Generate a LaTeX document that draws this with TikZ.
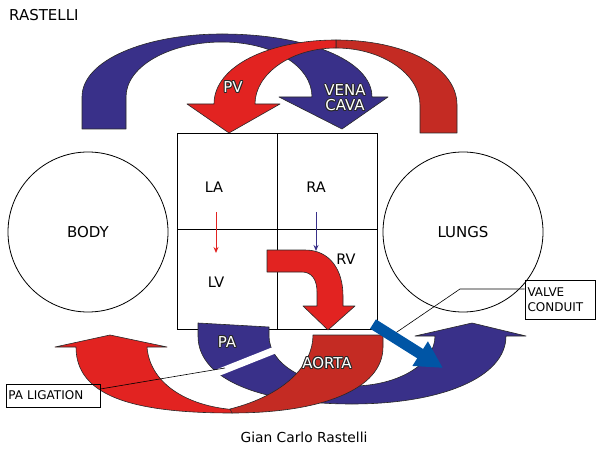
\documentclass[tikz,border=0pt]{standalone}
\usepackage{fontspec}
\setmainfont{DejaVu Sans}
\usetikzlibrary{calc,arrows.meta}
\definecolor{cblue}{RGB}{57,48,137}
\definecolor{cred}{RGB}{226,35,33}
\definecolor{cdred}{RGB}{196,43,35}
\definecolor{cconduit}{RGB}{0,85,165}
\definecolor{edgec}{RGB}{40,40,40}
\newcommand\olbl[3]{%
  \foreach \ang in {0,45,...,315}{\node[olab,text=edgec] at ($(#2)+(\ang:0.9)$) {#3};}
  \node[olab,text=white] (#1) at (#2) {#3};}
\begin{document}
\begin{tikzpicture}[x=1pt,y=-1pt,
  band/.style={draw=edgec,line width=0.6pt,line join=round},
  olab/.style={font=\fontsize{15}{16}\selectfont,inner sep=0pt,align=center},
  lab/.style={font=\fontsize{14.5}{16}\selectfont,inner sep=0pt},
  organ/.style={draw=black,line width=0.8pt,circle,minimum size=160pt,font=\fontsize{15}{16}\selectfont},
  cell/.style={draw=black,line width=0.8pt,minimum width=100pt,inner sep=0pt},
  tag/.style={draw=black,line width=0.7pt,font=\fontsize{12}{15.5}\selectfont,align=left,inner sep=0pt},
  lead/.style={draw=black,line width=0.6pt},
  thinarr/.style={line width=1pt,-{Stealth[length=6pt,width=5pt]}}]
\useasboundingbox (0,0) rectangle (597,449);

% title texts
\node[lab,anchor=west,font=\fontsize{15}{16}\selectfont] (title) at (9,15) {RASTELLI};
\node[lab,font=\fontsize{13.8}{16}\selectfont] (credit) at (304,437) {Gian Carlo Rastelli};

% organs
\node[organ] (body) at (88,232) {BODY};
\node[organ] (lungs) at (463,232) {LUNGS};

% heart cells
\node[cell,minimum height=96pt] (cLA) at (227,181) {};
\node[cell,minimum height=96pt] (cRA) at (327,181) {};
\node[cell,minimum height=100pt] (cLV) at (227,279) {};
\node[cell,minimum height=100pt] (cRV) at (327,279) {};
\node[lab] (tLA) at (214,187) {LA};
\node[lab] (tRA) at (316,187) {RA};
\node[lab] (tLV) at (216,282) {LV};
\node[lab] (tRV) at (346,259) {RV};
\coordinate (ra1) at (216,212); \coordinate (ra2) at (216,253);
\coordinate (rb1) at (316,212); \coordinate (rb2) at (316,251);
\draw[thinarr,cred] (ra1) -- (ra2);
\draw[thinarr,cblue] (rb1) -- (rb2);

% top blue arrow (vena cava)
\filldraw[band,fill=cblue] (82,129) -- (82,97) .. controls (82,60) and (146,34) .. (222,34)
  .. controls (306,34) and (372,60) .. (372,97) -- (388,97) -- (342,129) -- (279,97) -- (312,97)
  .. controls (312,66) and (273,42) .. (222,42) .. controls (170,42) and (126,66) .. (126,97)
  -- (126,129) -- cycle;
% top red arrow (pulmonary veins)
\filldraw[band,fill=cdred] (336,40) .. controls (403,40) and (457,66) .. (457,105) -- (457,133)
  -- (420,133) -- (420,105) .. controls (420,74) and (382,48) .. (336,48) -- cycle;
\filldraw[band,fill=cred] (255,104) -- (280,104) -- (229,133) -- (187,104) -- (214,104)
  .. controls (214,66) and (269,40) .. (336,40) -- (336,48) .. controls (291,48) and (255,74) .. (255,104) -- cycle;

% bottom blue arrow (PA)
\filldraw[band,fill=cblue] (198,323) -- (198,336) .. controls (198,380) and (262,404) .. (352,404)
  .. controls (440,404) and (506,378) .. (506,336) -- (526,336) -- (472,323) -- (415,336) -- (435,336)
  .. controls (435,364) and (398,386) .. (352,386) .. controls (306,386) and (269,364) .. (269,336)
  -- (269,327) -- cycle;
% bottom red arrow (aorta)
\filldraw[band,fill=cred] (147,347) -- (167,347) -- (110,335) -- (55,347) -- (76,347)
  .. controls (76,395) and (130,413) .. (232,413) -- (240,410)
  .. controls (190,408) and (150,385) .. (147,347) -- cycle;
\filldraw[band,fill=cdred] (232,413) .. controls (320,413) and (383,390) .. (383,347) -- (383,335)
  -- (313,335) .. controls (313,365) and (285,395) .. (230,409) -- cycle;
% PA ligation gap
\coordinate (gapA) at (212,375); \coordinate (gapB) at (285,346);
\draw[white,line width=7pt] (gapA) -- (gapB);

% RV curved arrow
\filldraw[band,fill=cred] (267,250) -- (305,250) .. controls (330,250) and (343,270) .. (343,296)
  -- (343,306) -- (355,306) -- (328,330) -- (303,306) -- (317,306) -- (317,292)
  .. controls (317,280) and (312,272) .. (302,272) -- (267,272) -- cycle;

% tags and leader lines
\node[tag,minimum width=94pt,minimum height=23pt,text width=89pt] (palig) at (53,395.5) {PA LIGATION};
\node[tag,minimum width=70pt,minimum height=39pt,text width=65pt] (valve) at (560,299.5) {VALVE\\CONDUIT};
\coordinate (paend) at (225,368);
\draw[lead] ($(palig.east)+(0,-6.5)$) -- (paend);
\coordinate (vbend) at (460,289);
\coordinate (vend) at (394,334);
\draw[lead] ($(valve.west)+(0,-10.5)$) -- (vbend) -- (vend);

% valve conduit arrow
\coordinate (cvA) at (373,324); \coordinate (cvB) at (443,368);
\draw[cconduit,line width=11pt,-{Triangle[length=27pt,width=27pt]}] (cvA) -- (cvB);

% outlined labels
\olbl{tPV}{233,87}{PV}
\olbl{tVC}{345,98}{VENA\\[-1pt]CAVA}
\olbl{tPA}{227,342}{PA}
\olbl{tAO}{327,363}{AORTA}
\end{tikzpicture}
\end{document}
